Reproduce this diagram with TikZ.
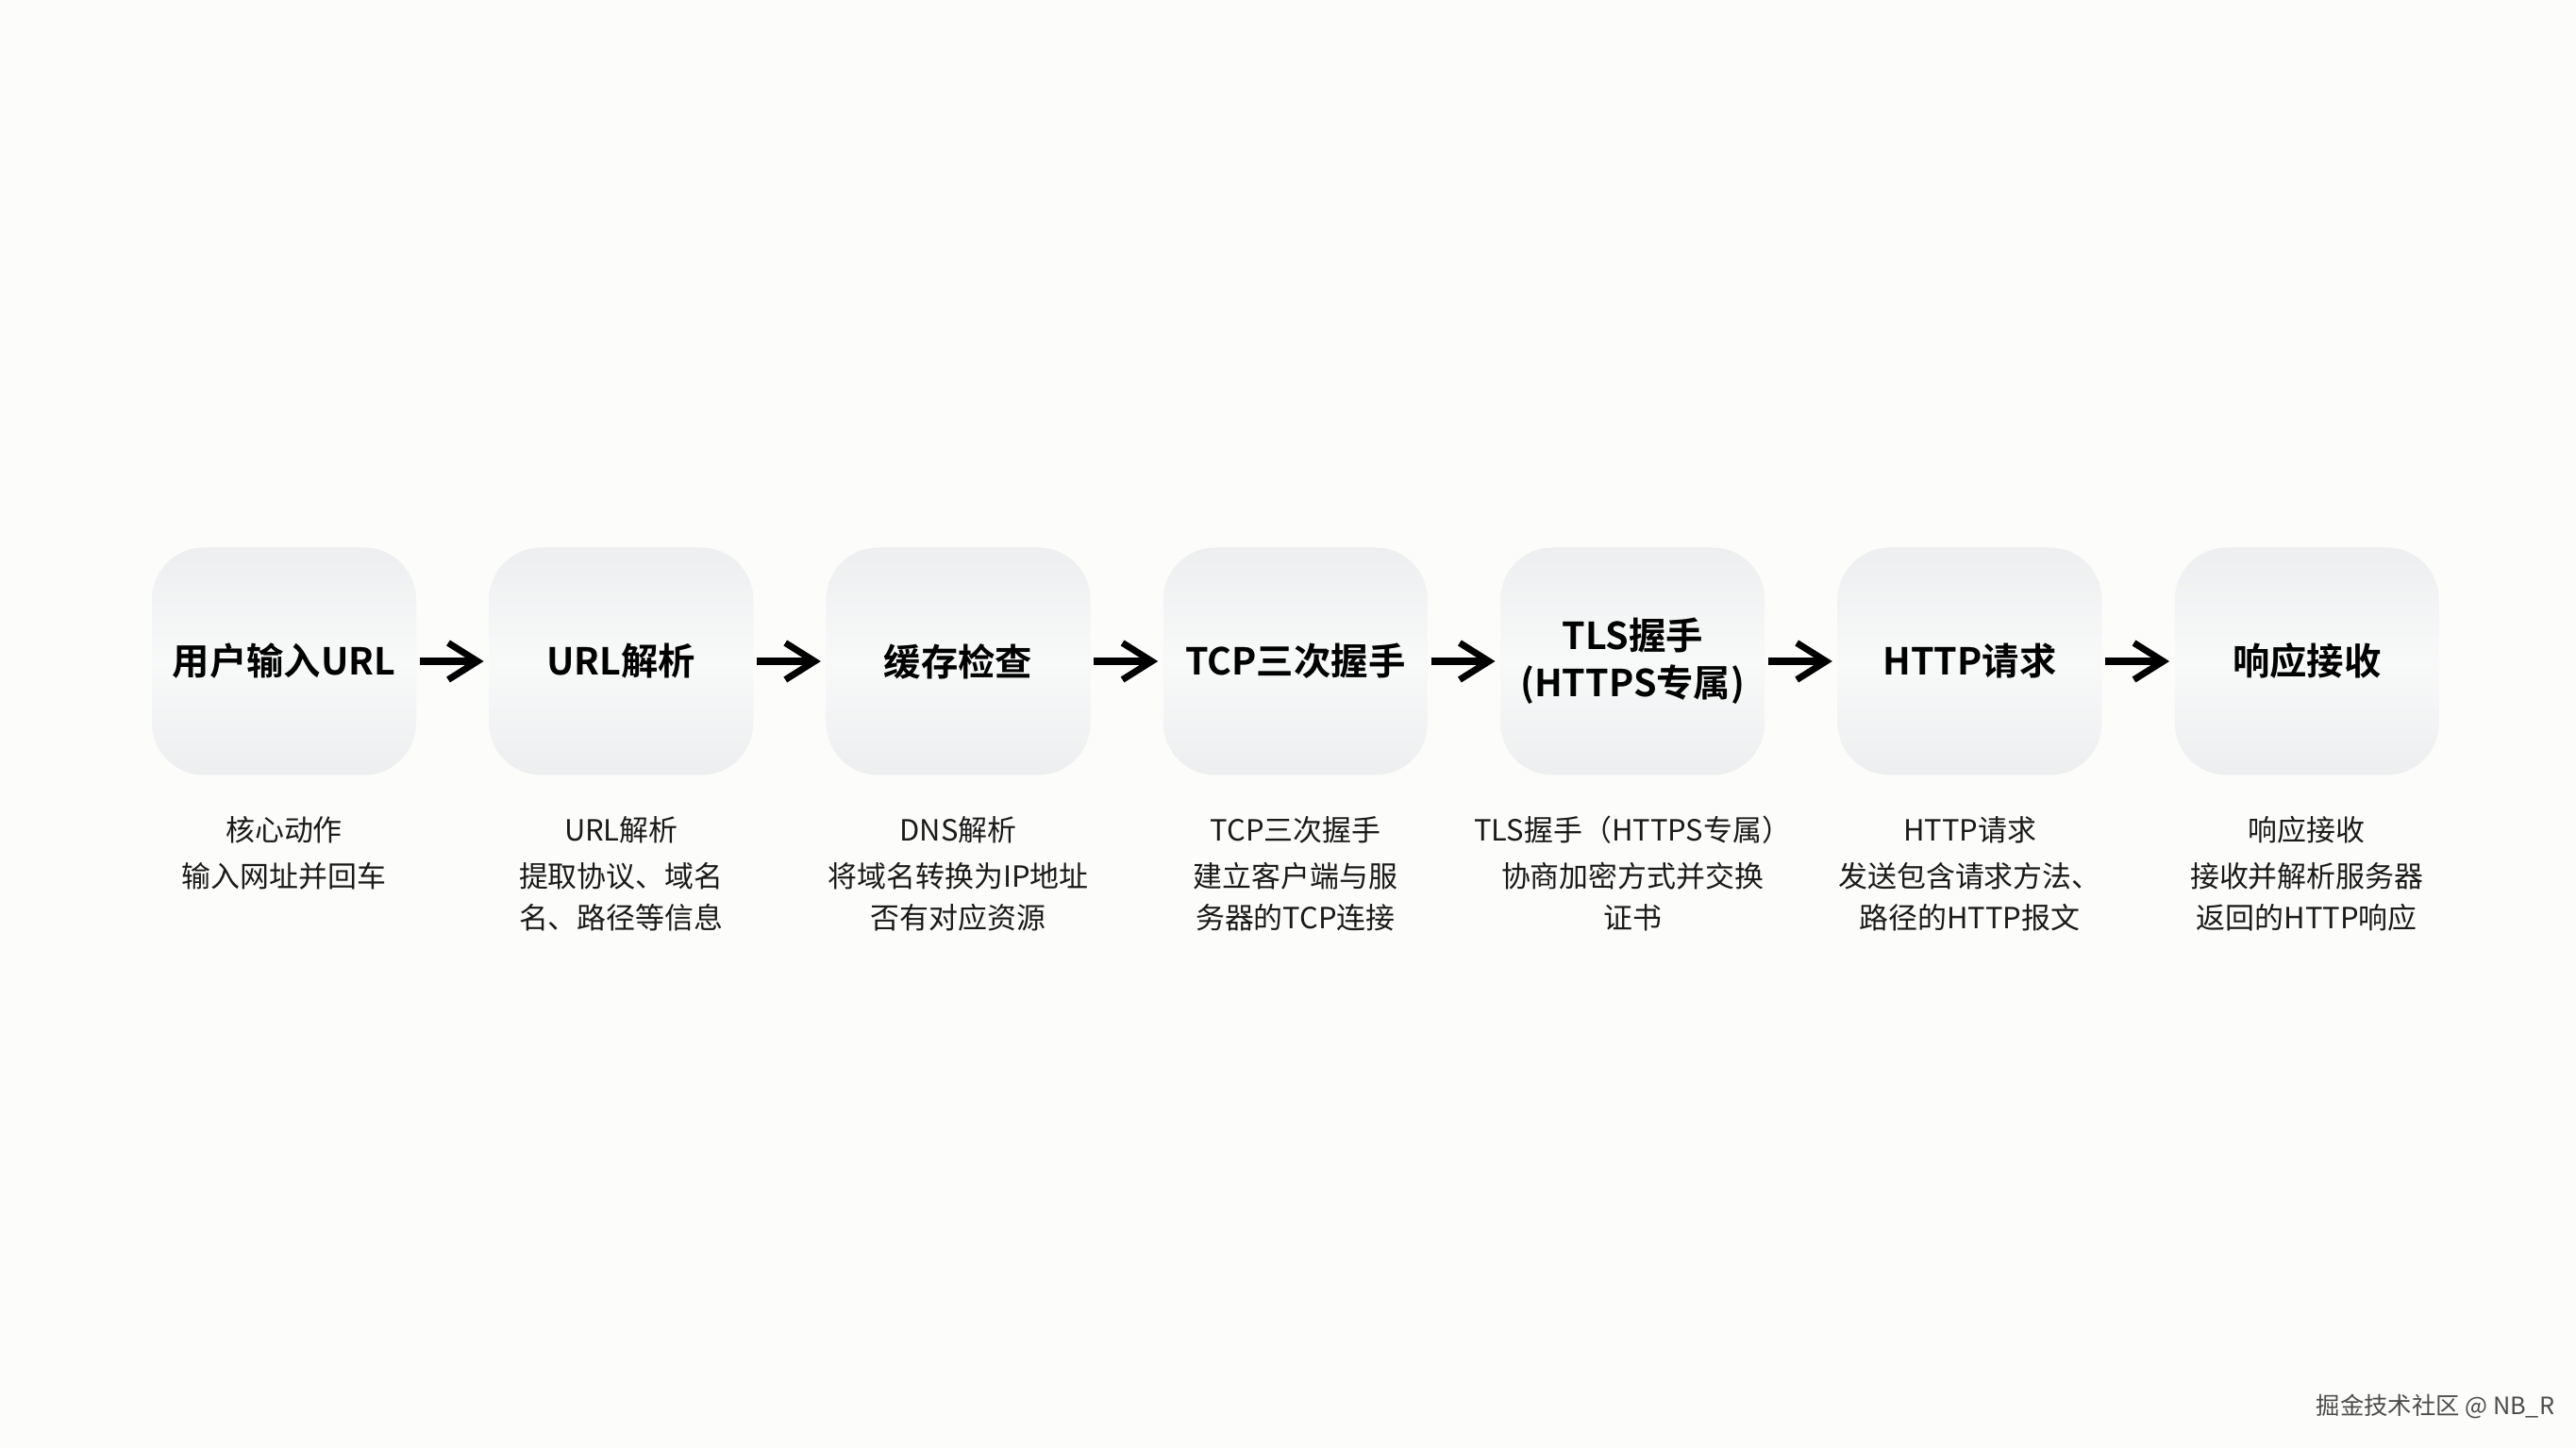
\documentclass[tikz,border=0pt]{standalone}
\usepackage{fontspec}
\setmainfont{Noto Sans CJK SC}[BoldFont={Noto Sans CJK SC Bold}]
\usetikzlibrary{arrows.meta}
\definecolor{paper}{RGB}{252,252,250}
\definecolor{boxedge}{RGB}{237,238,239}
\definecolor{boxmid}{RGB}{248,249,249}
\definecolor{ink}{RGB}{26,26,26}
\def\gap{3.573}
\tikzset{stage/.style={rounded corners=5.5mm, minimum width=2.8cm, minimum height=2.41cm, inner sep=0pt,
    top color=boxedge, bottom color=boxedge, middle color=boxmid,
    align=center, font=\fontsize{11.2}{14.2}\selectfont\bfseries}}
\tikzset{flow/.style={line width=2.1pt, -{Straight Barb[length=3.1mm, width=3.9mm, line width=2pt]},
    shorten <=0.3mm, shorten >=0.5mm}}
\tikzset{deschead/.style={font=\fontsize{8.8}{12.5}\selectfont, text=ink, inner sep=0pt}}
\tikzset{desc/.style={font=\fontsize{8.8}{12.5}\selectfont, text=ink, inner sep=0pt, align=center, anchor=north}}
\tikzset{wmark/.style={font=\fontsize{7.2}{9}\selectfont, text=black!70, inner sep=0pt}}
\begin{document}
\begin{tikzpicture}
  % Page
  \path[fill=paper, use as bounding box] (0,0) rectangle (27.3,15.35);
  % Stages
  \foreach \i/\name in {1/用户输入URL, 2/URL解析, 3/缓存检查, 4/TCP三次握手,
      5/{TLS握手\\(HTTPS专属)}, 6/HTTP请求, 7/响应接收} {
    \node[stage] (s\i) at ({3.01+(\i-1)*\gap},8.34) {\name};
  }
  % Arrows between stages
  \foreach \i [count=\j from 2] in {1,...,6} {
    \draw[flow] (s\i) -- (s\j);
  }
  % Notes under each stage
  \foreach \i/\head/\body in {
      1/核心动作/输入网址并回车,
      2/URL解析/{提取协议、域名\\名、路径等信息},
      3/DNS解析/{将域名转换为IP地址\\否有对应资源},
      4/TCP三次握手/{建立客户端与服\\务器的TCP连接},
      5/TLS握手（HTTPS专属）/{协商加密方式并交换\\证书},
      6/HTTP请求/{发送包含请求方法、\\路径的HTTP报文},
      7/响应接收/{接收并解析服务器\\返回的HTTP响应}} {
    \node[deschead] (h\i) at ({3.01+(\i-1)*\gap},6.55) {\head};
    \node[desc] (d\i) at ({3.01+(\i-1)*\gap},6.21) {\body};
  }
  % Credit
  \node[wmark] (credit) at (25.81,0.44) {掘金技术社区 @ NB\_R};
\end{tikzpicture}
\end{document}
